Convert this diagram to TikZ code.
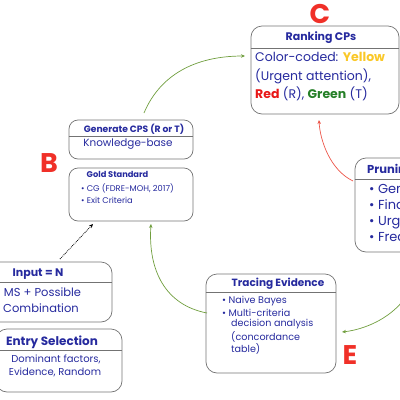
\documentclass[tikz,border=0pt]{standalone}
\usepackage{fontspec}
\setmainfont{Poppins}
\usetikzlibrary{arrows.meta}
\definecolor{tblue}{RGB}{38,42,158}
\definecolor{bgrey}{RGB}{115,115,115}
\definecolor{agreen}{RGB}{112,158,62}
\definecolor{ared}{RGB}{236,84,72}
\definecolor{lred}{RGB}{240,48,40}
\definecolor{wyellow}{RGB}{250,200,40}
\definecolor{wred}{RGB}{232,24,24}
\definecolor{wgreen}{RGB}{38,128,40}
\tikzset{
  card/.style={draw=bgrey, line width=0.7pt, rounded corners=11pt, inner sep=0pt},
  sep/.style={draw=bgrey, line width=0.6pt},
  ttl/.style={text=tblue, font=\bfseries, inner sep=0pt},
  txt/.style={text=tblue, inner sep=0pt, anchor=west},
  letter/.style={text=lred, font=\fontsize{27}{27}\selectfont\bfseries, inner sep=0pt},
  garrow/.style={draw=agreen, line width=0.7pt, -{Stealth[length=4pt,width=3.5pt]}},
  rarrow/.style={draw=ared, line width=0.7pt, -{Stealth[length=4pt,width=3.5pt]}},
}
\begin{document}
\begin{tikzpicture}[x=1pt,y=-1pt]
\useasboundingbox (0,0) rectangle (400,400);
\clip (0,0) rectangle (400,400);
% Ranking
\node[card, minimum width=148pt, minimum height=88pt] (rank) at (325,70) {};
\draw[sep] (rank.west |- 0,48) -- (rank.east |- 0,48);
\node[ttl, font=\fontsize{11}{12}\selectfont\bfseries] (rankt) at (321,38) {Ranking CPs};
\node[txt, font=\fontsize{12.5}{14}\selectfont] (rank1) at (255,57) {Color-coded: \textcolor{wyellow}{\bfseries Yellow}};
\node[txt, font=\fontsize{12.5}{14}\selectfont] (rank2) at (255,76) {(Urgent attention),};
\node[txt, font=\fontsize{12.5}{14}\selectfont] (rank3) at (255,94) {\textcolor{wred}{\bfseries Red} (R), \textcolor{wgreen}{\bfseries Green} (T)};
\node[letter] (lc) at (320,14) {C};
% Generate
\node[card, rounded corners=9pt, minimum width=124pt, minimum height=39pt] (gen) at (131,139.5) {};
\draw[sep] (gen.west |- 0,136) -- (gen.east |- 0,136);
\node[ttl, font=\fontsize{9.2}{10}\selectfont\bfseries] (gent) at (134,129.5) {Generate CPS (R or T)};
\node[text=tblue, inner sep=0pt, font=\fontsize{10.4}{12}\selectfont] (gen1) at (128,144.5) {Knowledge-base};
% Gold
\node[card, rounded corners=9pt, minimum width=124pt, minimum height=53pt] (gold) at (131,194.5) {};
\node[ttl, font=\fontsize{8.3}{9}\selectfont\bfseries] (goldt) at (117.5,174.5) {Gold Standard};
\node[txt, font=\fontsize{8.3}{9}\selectfont] (gold1) at (81,188) {\textbullet\ CG (FDRE-MOH, 2017)};
\node[txt, font=\fontsize{8.3}{9}\selectfont] (gold2) at (81,200) {\textbullet\ Exit Criteria};
\node[letter] (lb) at (49,163) {B};
% Input
\node[card, minimum width=124pt, minimum height=60pt] (inp) at (50,292) {};
\draw[sep] (inp.west |- 0,282) -- (inp.east |- 0,282);
\node[ttl, font=\fontsize{11}{12}\selectfont\bfseries] (inpt) at (38,274) {Input = N};
\node[text=tblue, inner sep=0pt, font=\fontsize{11.5}{13}\selectfont] (inp1) at (42.5,292) {MS + Possible};
\node[text=tblue, inner sep=0pt, font=\fontsize{11.5}{13}\selectfont] (inp2) at (41,308) {Combination};
% Entry
\node[card, minimum width=126pt, minimum height=63pt] (ent) at (59,360.5) {};
\draw[sep] (ent.west |- 0,350) -- (ent.east |- 0,350);
\node[ttl, font=\fontsize{12}{13}\selectfont\bfseries] (entt) at (52,342) {Entry Selection};
\node[text=tblue, inner sep=0pt, font=\fontsize{10}{11}\selectfont] (ent1) at (56,359) {Dominant factors,};
\node[text=tblue, inner sep=0pt, font=\fontsize{10}{11}\selectfont] (ent2) at (55,372) {Evidence, Random};
% Tracing
\node[card, minimum width=130pt, minimum height=99pt] (tra) at (271,323.5) {};
\draw[sep] (tra.west |- 0,292) -- (tra.east |- 0,292);
\node[ttl, font=\fontsize{10.5}{11}\selectfont\bfseries] (trat) at (278,284) {Tracing Evidence};
\node[txt, font=\fontsize{9.6}{10}\selectfont] (tra1) at (222,301) {\textbullet\ Naive Bayes};
\node[txt, font=\fontsize{9.6}{10}\selectfont] (tra2) at (222,313) {\textbullet\ Multi-criteria};
\node[txt, font=\fontsize{9.6}{10}\selectfont] (tra3) at (231,324.5) {decision analysis};
\node[txt, font=\fontsize{9.6}{10}\selectfont] (tra4) at (231,337) {(concordance};
\node[txt, font=\fontsize{9.6}{10}\selectfont] (tra5) at (231,348.5) {table)};
\node[letter] (le) at (350,355) {E};
% Pruning
\node[card, minimum width=130pt, minimum height=94pt] (pru) at (420,205) {};
\draw[sep] (pru.west |- 0,179) -- (pru.east |- 0,179);
\node[ttl, anchor=west, font=\fontsize{11.5}{12}\selectfont\bfseries] (prut) at (367,170) {Pruning};
\node[txt, font=\fontsize{13}{14}\selectfont] (pru1) at (369,189) {\textbullet\ General};
\node[txt, font=\fontsize{13}{14}\selectfont] (pru2) at (369,206) {\textbullet\ Findings};
\node[txt, font=\fontsize{13}{14}\selectfont] (pru3) at (369,223) {\textbullet\ Urgency};
\node[txt, font=\fontsize{13}{14}\selectfont] (pru4) at (369,239) {\textbullet\ Frequency};
% connectors
\coordinate (gtop) at (144,113);
\coordinate (rin) at (245,56);
\draw[garrow] (gtop) .. controls (160,75) and (195,56) .. (rin);
\coordinate (pl) at (353,181);
\coordinate (rb) at (319,120);
\draw[rarrow] (pl) .. controls (330,170) and (320,140) .. (rb);
\coordinate (poff) at (402,302);
\coordinate (tr) at (342,332);
\draw[garrow] (poff) .. controls (385,322) and (360,330) .. (tr);
\coordinate (tl) at (207,313);
\coordinate (gb) at (151,224);
\draw[garrow] (tl) .. controls (165,305) and (148,270) .. (gb);
\coordinate (dtail) at (60,259);
\draw[densely dotted, line width=0.8pt, -{Stealth[length=4pt,width=3.5pt]}] (dtail) -- (93,224);
\end{tikzpicture}
\end{document}
